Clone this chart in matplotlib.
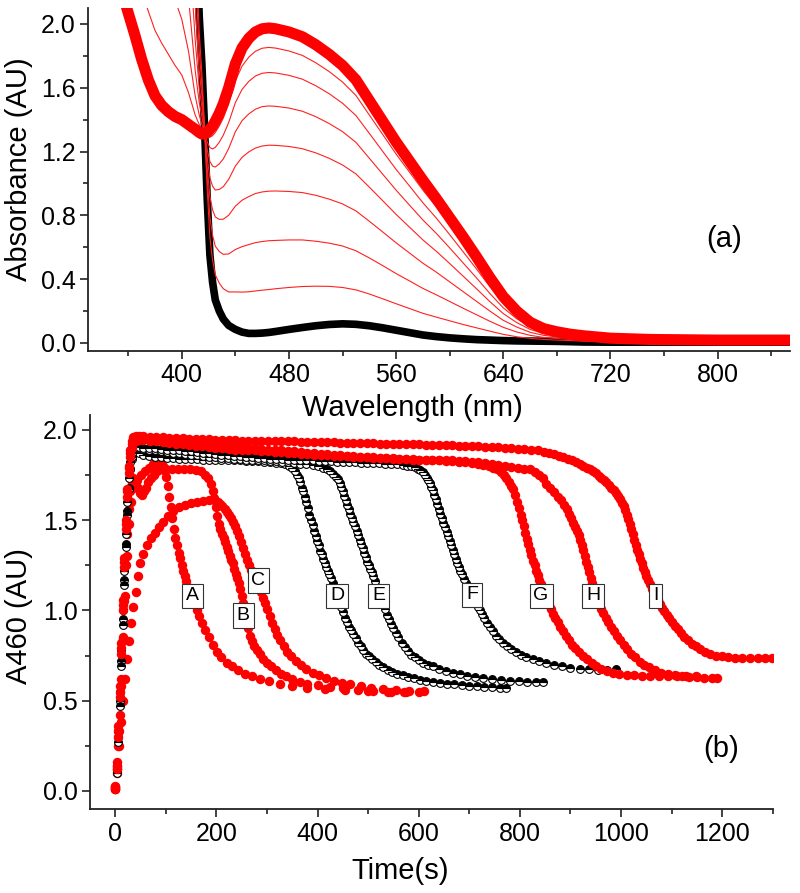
import matplotlib
matplotlib.use('Agg')
import matplotlib.pyplot as plt
from matplotlib.ticker import MultipleLocator, FormatStrFormatter

plt.rcParams['font.family'] = ['Liberation Sans', 'DejaVu Sans']

# ---------------- panel (a): spectra ----------------
wl = [330, 345, 360, 365, 370, 375, 380, 385, 390, 395, 400, 405, 410, 413, 415, 417, 419, 421, 423, 425,
      428, 431, 435, 440, 445, 450, 455, 460, 465, 470, 480, 490, 500, 510, 520, 530, 540, 550, 560, 570,
      580, 590, 600, 610, 620, 630, 640, 650, 660, 670, 680, 690, 700, 720, 750, 800, 854]

spec_start = [9.0, 9.0, 9.0, 8.8, 8.5, 8.3, 8.0, 7.6, 7.0, 6.4, 5.7, 4.5, 2.8, 2.05, 1.75, 1.35, 0.9, 0.55, 0.38, 0.27,
              0.2, 0.15, 0.11, 0.085, 0.068, 0.06, 0.06, 0.062, 0.066, 0.072, 0.085, 0.097, 0.108, 0.116, 0.12, 0.117, 0.108, 0.095, 0.08, 0.065,
              0.05, 0.04, 0.032, 0.026, 0.021, 0.018, 0.015, 0.013, 0.012, 0.011, 0.01, 0.008, 0.006, 0.005, 0.005, 0.005, 0.005]

spec_end = [2.9, 2.5, 2.07, 1.93, 1.78, 1.65, 1.55, 1.49, 1.45, 1.42, 1.40, 1.37, 1.34, 1.32, 1.31, 1.31, 1.32, 1.34, 1.36, 1.39,
            1.44, 1.50, 1.60, 1.75, 1.85, 1.91, 1.95, 1.97, 1.975, 1.97, 1.95, 1.92, 1.87, 1.81, 1.74, 1.65, 1.52, 1.39, 1.26, 1.14,
            1.02, 0.905, 0.785, 0.665, 0.54, 0.41, 0.29, 0.20, 0.13, 0.09, 0.07, 0.055, 0.045, 0.03, 0.022, 0.018, 0.018]

spec_1 = [3.29, 2.92, 2.51, 2.37, 2.21, 2.08, 1.96, 1.88, 1.81, 1.74, 1.68, 1.57, 1.43, 1.37, 1.34, 1.31, 1.29, 1.29, 1.30, 1.32,
          1.36, 1.41, 1.50, 1.643, 1.736, 1.792, 1.829, 1.848, 1.853, 1.849, 1.831, 1.803, 1.757, 1.702, 1.636, 1.552, 1.429, 1.307, 1.184, 1.071,
          0.958, 0.854, 0.742, 0.624, 0.507, 0.385, 0.273, 0.188, 0.122, 0.085, 0.066, 0.052, 0.043, 0.028, 0.021, 0.017, 0.017]
spec_2 = [3.79, 3.45, 3.08, 2.93, 2.76, 2.62, 2.50, 2.38, 2.26, 2.15, 2.03, 1.83, 1.55, 1.43, 1.37, 1.32, 1.26, 1.225, 1.217, 1.226,
          1.259, 1.303, 1.382, 1.507, 1.590, 1.640, 1.674, 1.691, 1.696, 1.693, 1.678, 1.654, 1.613, 1.563, 1.503, 1.426, 1.314, 1.201, 1.088, 0.984,
          0.879, 0.783, 0.679, 0.572, 0.464, 0.352, 0.249, 0.173, 0.113, 0.078, 0.061, 0.048, 0.039, 0.026, 0.020, 0.016, 0.016]
spec_3 = [4.46, 4.16, 3.84, 3.69, 3.5, 3.35, 3.21, 3.05, 2.87, 2.69, 2.50, 2.17, 1.71, 1.51, 1.42, 1.32, 1.212, 1.138, 1.109, 1.103,
          1.123, 1.154, 1.219, 1.324, 1.394, 1.436, 1.466, 1.482, 1.486, 1.484, 1.473, 1.453, 1.419, 1.376, 1.325, 1.258, 1.158, 1.058, 0.958, 0.864,
          0.771, 0.687, 0.596, 0.502, 0.408, 0.310, 0.220, 0.152, 0.100, 0.070, 0.055, 0.043, 0.035, 0.024, 0.018, 0.015, 0.015]
spec_4 = [5.25, 5.0, 4.74, 4.57, 4.37, 4.21, 4.04, 3.84, 3.59, 3.34, 3.06, 2.58, 1.90, 1.60, 1.48, 1.325, 1.158, 1.036, 0.983, 0.959,
          0.963, 0.980, 1.026, 1.109, 1.164, 1.198, 1.222, 1.235, 1.240, 1.239, 1.232, 1.218, 1.192, 1.158, 1.116, 1.060, 0.977, 0.892, 0.806, 0.726,
          0.646, 0.575, 0.498, 0.419, 0.340, 0.259, 0.184, 0.128, 0.085, 0.060, 0.047, 0.037, 0.030, 0.020, 0.015, 0.013, 0.013]
spec_5 = [6.17, 5.98, 5.78, 5.61, 5.38, 5.21, 5.01, 4.76, 4.42, 4.09, 3.70, 3.05, 2.12, 1.71, 1.55, 1.33, 1.095, 0.917, 0.835, 0.790,
          0.775, 0.776, 0.801, 0.858, 0.895, 0.918, 0.937, 0.947, 0.952, 0.953, 0.950, 0.943, 0.926, 0.902, 0.872, 0.828, 0.763, 0.696, 0.628, 0.564,
          0.500, 0.444, 0.383, 0.322, 0.261, 0.200, 0.142, 0.100, 0.067, 0.048, 0.038, 0.030, 0.024, 0.017, 0.013, 0.011, 0.011]
spec_6 = [7.16, 7.04, 6.91, 6.73, 6.48, 6.3, 6.06, 5.76, 5.33, 4.9, 4.41, 3.56, 2.36, 1.83, 1.62, 1.34, 1.026, 0.788, 0.675, 0.607,
          0.573, 0.556, 0.558, 0.586, 0.604, 0.617, 0.629, 0.636, 0.641, 0.643, 0.646, 0.646, 0.638, 0.626, 0.608, 0.578, 0.533, 0.485, 0.435, 0.389,
          0.342, 0.302, 0.260, 0.218, 0.177, 0.136, 0.098, 0.069, 0.048, 0.035, 0.028, 0.022, 0.018, 0.013, 0.010, 0.009, 0.009]
spec_7 = [8.14, 8.08, 8.02, 7.83, 7.55, 7.36, 7.09, 6.74, 6.22, 5.7, 5.09, 4.06, 2.59, 1.95, 1.69, 1.344, 0.959, 0.661, 0.518, 0.428,
          0.375, 0.340, 0.320, 0.320, 0.319, 0.321, 0.326, 0.331, 0.335, 0.340, 0.348, 0.354, 0.356, 0.355, 0.348, 0.333, 0.307, 0.277, 0.246, 0.216,
          0.186, 0.162, 0.139, 0.116, 0.095, 0.074, 0.054, 0.039, 0.029, 0.022, 0.018, 0.015, 0.011, 0.009, 0.007, 0.007, 0.007]
spec_mid = [spec_1, spec_2, spec_3, spec_4, spec_5, spec_6, spec_7]

# ---------------- panel (b): kinetics at 460 nm ----------------
t_A = [0, 4, 8, 12, 16, 20, 24, 28, 32, 36, 42, 50, 58, 66, 74, 82, 88, 94, 98, 101,
       104, 107, 110, 113, 116, 119, 122, 125, 128, 131, 134, 137, 140, 144, 148, 152, 156, 161, 166, 172,
       178, 185, 193, 201, 210, 220, 231, 243, 256, 270, 286, 304, 325, 350, 380, 415, 455, 500, 545, 575]
y_A = [0.02, 0.14, 0.33, 0.58, 0.84, 1.08, 1.30, 1.48, 1.60, 1.68, 1.72, 1.75, 1.77, 1.79, 1.81, 1.82, 1.82, 1.80, 1.77, 1.74,
       1.69, 1.63, 1.57, 1.51, 1.45, 1.40, 1.36, 1.32, 1.29, 1.25, 1.22, 1.19, 1.16, 1.13, 1.10, 1.07, 1.04, 1.00, 0.97, 0.93,
       0.89, 0.85, 0.81, 0.77, 0.74, 0.71, 0.69, 0.67, 0.65, 0.635, 0.62, 0.61, 0.595, 0.58, 0.57, 0.565, 0.56, 0.555, 0.55, 0.55]

t_B = [0, 3, 6, 9, 12, 15, 18, 21, 24, 27, 30, 33, 36, 40, 44, 48, 52, 56, 60, 65,
       70, 76, 82, 90, 100, 112, 124, 136, 148, 160, 170, 178, 184, 189, 193, 196, 199, 202, 205, 208,
       211, 214, 217, 220, 223, 226, 229, 232, 235, 238, 241, 244, 247, 250, 253, 256, 259, 262, 266, 270,
       275, 280, 286, 293, 300, 308, 317, 327, 338, 350, 365, 380, 400, 425, 450, 480, 510, 540, 570, 600]
y_B = [0.01, 0.10, 0.25, 0.42, 0.62, 0.85, 1.05, 1.25, 1.42, 1.56, 1.66, 1.71, 1.73, 1.71, 1.68, 1.65, 1.64, 1.66, 1.68, 1.71,
       1.73, 1.75, 1.77, 1.78, 1.78, 1.78, 1.785, 1.78, 1.78, 1.775, 1.77, 1.75, 1.73, 1.70, 1.66, 1.62, 1.57, 1.52, 1.48, 1.45,
       1.42, 1.40, 1.38, 1.35, 1.33, 1.30, 1.28, 1.26, 1.23, 1.20, 1.18, 1.15, 1.12, 1.08, 1.04, 0.99, 0.94, 0.90, 0.86, 0.83,
       0.80, 0.78, 0.76, 0.73, 0.71, 0.69, 0.67, 0.65, 0.635, 0.62, 0.605, 0.595, 0.585, 0.575, 0.57, 0.56, 0.555, 0.55, 0.55, 0.55]

t_C = [0, 4, 8, 12, 16, 20, 24, 28, 32, 36, 40, 45, 49, 55, 62, 70, 78, 86, 95, 105,
       115, 126, 138, 150, 162, 174, 186, 196, 204, 208, 212, 216, 220, 224, 228, 232, 236, 240, 244, 248,
       252, 256, 260, 264, 268, 272, 276, 280, 284, 288, 292, 296, 300, 305, 310, 315, 320, 326, 333, 340,
       348, 357, 367, 378, 390, 403, 417, 432, 448, 465, 485, 505, 530, 555, 580, 610]
y_C = [0.01, 0.12, 0.25, 0.38, 0.50, 0.62, 0.73, 0.83, 0.93, 1.02, 1.10, 1.19, 1.26, 1.31, 1.36, 1.40, 1.43, 1.46, 1.49, 1.52,
       1.55, 1.57, 1.585, 1.595, 1.60, 1.605, 1.61, 1.61, 1.60, 1.59, 1.575, 1.56, 1.545, 1.53, 1.51, 1.49, 1.465, 1.44, 1.41, 1.38,
       1.345, 1.31, 1.28, 1.25, 1.225, 1.20, 1.175, 1.15, 1.125, 1.10, 1.07, 1.04, 1.01, 0.97, 0.93, 0.895, 0.865, 0.835, 0.80, 0.77,
       0.745, 0.72, 0.695, 0.675, 0.655, 0.64, 0.625, 0.61, 0.60, 0.59, 0.58, 0.57, 0.565, 0.56, 0.555, 0.555]

t_D = [0, 3, 6, 9, 12, 15, 18, 21, 24, 27, 30, 33, 36, 40, 46, 55, 66, 78, 90, 102,
       114, 126, 138, 150, 162, 174, 186, 198, 210, 222, 234, 246, 258, 270, 282, 294, 306, 318, 328, 336,
       344, 350, 355, 359, 363, 366, 369, 372, 375, 378, 381, 384, 387, 390, 393, 396, 399, 402, 405, 408,
       411, 414, 417, 420, 423, 426, 430, 434, 438, 442, 446, 450, 454, 458, 462, 466, 470, 475, 480, 485,
       490, 496, 502, 508, 515, 522, 530, 539, 548, 558, 568, 579, 590, 602, 615, 628, 642, 656, 670, 685,
       700, 715, 730, 745, 760, 772]
y_D = [0.02, 0.12, 0.30, 0.50, 0.72, 0.95, 1.17, 1.37, 1.55, 1.68, 1.78, 1.84, 1.87, 1.88, 1.87, 1.86, 1.855, 1.85, 1.85, 1.845,
       1.845, 1.84, 1.84, 1.84, 1.84, 1.835, 1.835, 1.835, 1.83, 1.83, 1.83, 1.83, 1.825, 1.825, 1.825, 1.82, 1.82, 1.815, 1.815, 1.81,
       1.80, 1.79, 1.77, 1.75, 1.73, 1.71, 1.68, 1.66, 1.63, 1.60, 1.565, 1.53, 1.50, 1.47, 1.44, 1.41, 1.385, 1.36, 1.33, 1.31,
       1.285, 1.26, 1.24, 1.22, 1.20, 1.18, 1.15, 1.12, 1.09, 1.05, 1.02, 0.99, 0.96, 0.935, 0.91, 0.89, 0.87, 0.845, 0.82, 0.80,
       0.78, 0.76, 0.745, 0.73, 0.715, 0.70, 0.685, 0.67, 0.66, 0.65, 0.64, 0.63, 0.625, 0.615, 0.61, 0.605, 0.60, 0.595, 0.59, 0.585,
       0.58, 0.58, 0.575, 0.575, 0.57, 0.57]

t_E = [0, 3, 6, 9, 12, 15, 18, 21, 24, 27, 30, 33, 36, 40, 46, 55, 66, 78, 90, 102,
       114, 126, 138, 150, 162, 174, 186, 198, 210, 222, 234, 246, 258, 270, 282, 294, 306, 318, 330, 342,
       354, 366, 378, 390, 400, 410, 418, 425, 431, 436, 440, 444, 447, 450, 453, 456, 459, 462, 465, 468,
       471, 474, 477, 480, 483, 486, 489, 492, 495, 498, 501, 504, 507, 510, 514, 518, 522, 526, 530, 534,
       538, 542, 546, 550, 555, 560, 566, 572, 578, 585, 592, 600, 609, 618, 628, 640, 653, 667, 681, 696,
       712, 728, 745, 762, 780, 798, 815, 832, 845]
y_E = [0.01, 0.10, 0.27, 0.47, 0.69, 0.92, 1.14, 1.35, 1.53, 1.67, 1.78, 1.85, 1.89, 1.90, 1.90, 1.895, 1.89, 1.885, 1.88, 1.875,
       1.87, 1.87, 1.865, 1.86, 1.86, 1.855, 1.85, 1.85, 1.845, 1.845, 1.84, 1.84, 1.835, 1.835, 1.83, 1.83, 1.825, 1.825, 1.82, 1.82,
       1.815, 1.81, 1.81, 1.805, 1.80, 1.79, 1.78, 1.77, 1.755, 1.74, 1.725, 1.705, 1.685, 1.66, 1.635, 1.61, 1.585, 1.56, 1.535, 1.51,
       1.49, 1.465, 1.44, 1.415, 1.39, 1.37, 1.345, 1.32, 1.295, 1.27, 1.25, 1.23, 1.21, 1.19, 1.16, 1.13, 1.10, 1.065, 1.035, 1.005,
       0.975, 0.95, 0.925, 0.90, 0.875, 0.85, 0.82, 0.795, 0.775, 0.755, 0.74, 0.725, 0.71, 0.70, 0.69, 0.675, 0.665, 0.655, 0.645, 0.635,
       0.63, 0.625, 0.62, 0.615, 0.61, 0.61, 0.605, 0.605, 0.605]

t_F = [0, 3, 6, 9, 12, 15, 18, 21, 24, 27, 30, 33, 36, 40, 46, 55, 66, 78, 90, 102,
       114, 126, 138, 150, 162, 174, 186, 198, 210, 222, 234, 246, 258, 270, 282, 294, 306, 318, 330, 342,
       354, 366, 378, 390, 402, 414, 426, 438, 450, 462, 474, 486, 498, 510, 522, 534, 546, 558, 568, 577,
       585, 592, 598, 603, 608, 612, 616, 619, 622, 625, 628, 631, 634, 637, 640, 643, 646, 649, 652, 655,
       658, 661, 664, 667, 670, 673, 676, 679, 682, 685, 689, 693, 697, 701, 705, 709, 713, 717, 721, 725,
       730, 735, 740, 746, 752, 759, 766, 774, 783, 792, 802, 813, 825, 838, 852, 867, 883, 900, 918, 936,
       954, 972, 990]
y_F = [0.02, 0.14, 0.33, 0.55, 0.78, 1.0, 1.22, 1.42, 1.6, 1.73, 1.82, 1.87, 1.90, 1.905, 1.905, 1.90, 1.90, 1.90, 1.895, 1.89,
       1.89, 1.885, 1.88, 1.88, 1.875, 1.87, 1.87, 1.865, 1.86, 1.86, 1.855, 1.855, 1.85, 1.85, 1.845, 1.845, 1.84, 1.84, 1.84, 1.835,
       1.835, 1.83, 1.83, 1.83, 1.825, 1.825, 1.825, 1.82, 1.82, 1.82, 1.82, 1.815, 1.815, 1.815, 1.815, 1.81, 1.81, 1.81, 1.805, 1.80,
       1.80, 1.795, 1.785, 1.775, 1.765, 1.75, 1.735, 1.72, 1.705, 1.685, 1.665, 1.64, 1.615, 1.59, 1.56, 1.535, 1.51, 1.485, 1.46, 1.435,
       1.41, 1.385, 1.36, 1.335, 1.31, 1.285, 1.26, 1.24, 1.22, 1.20, 1.175, 1.15, 1.125, 1.10, 1.08, 1.06, 1.04, 1.02, 1.00, 0.98,
       0.955, 0.93, 0.91, 0.885, 0.86, 0.84, 0.82, 0.80, 0.785, 0.77, 0.755, 0.74, 0.73, 0.72, 0.71, 0.70, 0.69, 0.683, 0.677, 0.673,
       0.672, 0.672, 0.673]

t_G = [0, 3, 6, 9, 12, 15, 18, 21, 24, 27, 30, 33, 36, 40, 46, 55, 68, 81, 94, 107,
       120, 133, 146, 159, 172, 185, 198, 211, 224, 237, 250, 263, 276, 289, 302, 315, 328, 341, 354, 367,
       380, 393, 406, 419, 432, 445, 458, 471, 484, 497, 510, 523, 536, 549, 562, 575, 588, 601, 614, 627,
       640, 653, 666, 679, 692, 705, 717, 728, 738, 747, 755, 762, 768, 773, 778, 782, 786, 790, 794, 798,
       802, 805, 808, 811, 814, 817, 820, 823, 826, 829, 832, 835, 838, 841, 844, 847, 850, 854, 858, 862,
       866, 870, 875, 880, 885, 891, 897, 903, 910, 917, 925, 933, 942, 951, 961, 972, 984, 997, 1011, 1026,
       1042, 1058, 1075, 1092, 1110, 1128, 1148]
y_G = [0.01, 0.12, 0.30, 0.52, 0.76, 1.0, 1.24, 1.45, 1.63, 1.76, 1.85, 1.90, 1.93, 1.94, 1.945, 1.945, 1.94, 1.935, 1.93, 1.925,
       1.92, 1.92, 1.915, 1.91, 1.91, 1.905, 1.90, 1.90, 1.895, 1.89, 1.89, 1.885, 1.885, 1.88, 1.88, 1.875, 1.875, 1.87, 1.87, 1.865,
       1.865, 1.86, 1.86, 1.86, 1.855, 1.855, 1.855, 1.85, 1.85, 1.85, 1.845, 1.845, 1.845, 1.84, 1.84, 1.84, 1.835, 1.835, 1.83, 1.83,
       1.83, 1.825, 1.825, 1.82, 1.82, 1.815, 1.81, 1.805, 1.80, 1.79, 1.78, 1.765, 1.75, 1.73, 1.71, 1.69, 1.67, 1.64, 1.60, 1.565,
       1.53, 1.50, 1.465, 1.43, 1.395, 1.365, 1.335, 1.305, 1.275, 1.25, 1.22, 1.195, 1.17, 1.145, 1.125, 1.10, 1.08, 1.055, 1.03, 1.005,
       0.98, 0.96, 0.935, 0.91, 0.885, 0.86, 0.835, 0.81, 0.79, 0.77, 0.75, 0.73, 0.71, 0.69, 0.677, 0.665, 0.655, 0.648, 0.644, 0.64,
       0.638, 0.636, 0.635, 0.635, 0.635, 0.635, 0.635]

t_H = [0, 3, 6, 9, 12, 15, 18, 21, 24, 27, 30, 33, 36, 40, 46, 55, 68, 81, 94, 107,
       120, 133, 146, 159, 172, 185, 198, 211, 224, 237, 250, 263, 276, 289, 302, 315, 328, 341, 354, 367,
       380, 393, 406, 419, 432, 445, 458, 471, 484, 497, 510, 523, 536, 549, 562, 575, 588, 601, 614, 627,
       640, 653, 666, 679, 692, 705, 718, 731, 744, 757, 770, 783, 796, 808, 820, 830, 838, 845, 852, 860,
       868, 876, 882, 888, 893, 898, 902, 906, 910, 913, 916, 919, 922, 925, 928, 931, 934, 937, 940, 943,
       946, 949, 952, 956, 960, 965, 970, 975, 980, 986, 992, 998, 1005, 1012, 1020, 1028, 1037, 1046, 1056, 1067,
       1079, 1092, 1106, 1120, 1135, 1150, 1165, 1180, 1190]
y_H = [0.03, 0.16, 0.36, 0.58, 0.82, 1.06, 1.29, 1.50, 1.67, 1.79, 1.87, 1.92, 1.94, 1.95, 1.955, 1.955, 1.95, 1.95, 1.945, 1.94,
       1.94, 1.935, 1.93, 1.93, 1.925, 1.92, 1.92, 1.915, 1.91, 1.91, 1.905, 1.90, 1.90, 1.895, 1.89, 1.89, 1.885, 1.88, 1.88, 1.875,
       1.87, 1.87, 1.865, 1.865, 1.86, 1.86, 1.855, 1.855, 1.85, 1.85, 1.85, 1.845, 1.845, 1.845, 1.84, 1.84, 1.84, 1.835, 1.835, 1.835,
       1.83, 1.83, 1.83, 1.825, 1.825, 1.82, 1.82, 1.815, 1.81, 1.805, 1.80, 1.795, 1.79, 1.785, 1.78, 1.765, 1.75, 1.73, 1.70, 1.68,
       1.655, 1.63, 1.61, 1.585, 1.56, 1.535, 1.51, 1.485, 1.46, 1.44, 1.415, 1.39, 1.36, 1.335, 1.30, 1.27, 1.24, 1.21, 1.18, 1.15,
       1.12, 1.09, 1.065, 1.035, 1.01, 0.985, 0.96, 0.935, 0.91, 0.885, 0.86, 0.835, 0.81, 0.785, 0.76, 0.74, 0.715, 0.70, 0.685, 0.67,
       0.655, 0.645, 0.64, 0.635, 0.63, 0.63, 0.625, 0.625, 0.625]

t_I = [0, 3, 6, 9, 12, 15, 18, 21, 24, 27, 30, 33, 36, 40, 46, 55, 68, 81, 94, 107,
       120, 133, 146, 159, 172, 185, 198, 211, 224, 237, 250, 263, 276, 289, 302, 315, 328, 341, 354, 367,
       380, 393, 406, 419, 432, 445, 458, 471, 484, 497, 510, 523, 536, 549, 562, 575, 588, 601, 614, 627,
       640, 653, 666, 679, 692, 705, 718, 731, 744, 757, 770, 783, 796, 809, 822, 835, 847, 858, 868, 877,
       886, 895, 903, 911, 918, 925, 932, 938, 944, 950, 956, 961, 966, 971, 976, 981, 986, 990, 994, 998,
       1002, 1005, 1008, 1011, 1014, 1017, 1020, 1023, 1026, 1029, 1032, 1035, 1038, 1041, 1044, 1047, 1050, 1053, 1057, 1061,
       1065, 1069, 1073, 1077, 1081, 1085, 1090, 1095, 1100, 1106, 1112, 1118, 1125, 1132, 1140, 1148, 1157, 1166, 1176, 1187,
       1199, 1212, 1226, 1240, 1255, 1270, 1285, 1298]
y_I = [0.02, 0.14, 0.33, 0.55, 0.79, 1.03, 1.27, 1.48, 1.66, 1.80, 1.89, 1.94, 1.96, 1.965, 1.965, 1.965, 1.96, 1.96, 1.96, 1.955,
       1.955, 1.955, 1.95, 1.95, 1.95, 1.95, 1.945, 1.945, 1.945, 1.945, 1.94, 1.94, 1.94, 1.94, 1.935, 1.935, 1.935, 1.935, 1.935, 1.93,
       1.93, 1.93, 1.93, 1.93, 1.93, 1.925, 1.925, 1.925, 1.925, 1.925, 1.925, 1.92, 1.92, 1.92, 1.92, 1.92, 1.92, 1.92, 1.915, 1.915,
       1.915, 1.915, 1.915, 1.91, 1.91, 1.91, 1.91, 1.905, 1.905, 1.905, 1.90, 1.90, 1.895, 1.895, 1.89, 1.885, 1.875, 1.87, 1.865, 1.855,
       1.85, 1.84, 1.83, 1.82, 1.81, 1.80, 1.79, 1.78, 1.77, 1.76, 1.745, 1.735, 1.72, 1.71, 1.695, 1.68, 1.665, 1.65, 1.635, 1.615,
       1.595, 1.575, 1.555, 1.53, 1.505, 1.48, 1.45, 1.42, 1.39, 1.36, 1.335, 1.31, 1.285, 1.26, 1.235, 1.21, 1.19, 1.17, 1.145, 1.12,
       1.095, 1.075, 1.055, 1.035, 1.015, 0.995, 0.975, 0.955, 0.935, 0.915, 0.895, 0.875, 0.855, 0.835, 0.815, 0.80, 0.785, 0.77, 0.76, 0.75,
       0.745, 0.74, 0.738, 0.736, 0.735, 0.735, 0.735, 0.735]

traces = [(t_A, y_A, 'red'), (t_B, y_B, 'red'), (t_C, y_C, 'red'),
          (t_D, y_D, 'black'), (t_E, y_E, 'black'), (t_F, y_F, 'black'),
          (t_G, y_G, 'red'), (t_H, y_H, 'red'), (t_I, y_I, 'red')]

label_names = ['A', 'B', 'C', 'D', 'E', 'F', 'G', 'H', 'I']
label_t = [153, 253, 283, 439, 521, 705, 842, 945, 1069]
label_a = [1.08, 0.97, 1.165, 1.08, 1.08, 1.085, 1.08, 1.08, 1.08]

# ---------------- figure ----------------
fig = plt.figure(figsize=(8, 8.93), dpi=100)
ax2 = fig.add_axes([0.1125, 0.094, 0.8534, 0.441])
ax1 = fig.add_axes([0.11, 0.607, 0.8775, 0.384])
ax2.patch.set_visible(False)
ax1.patch.set_visible(False)

ax1.plot(wl, spec_start, color='black', lw=5.5, solid_joinstyle='round', zorder=2)
for s in spec_mid:
    ax1.plot(wl, s, color='#ff2020', lw=0.8, zorder=3)
ax1.plot(wl, spec_end, color='#ff0000', lw=8, solid_joinstyle='round', zorder=4)

ax1.set_xlim(330, 854)
ax1.set_ylim(-0.05, 2.1)
ax1.xaxis.set_major_locator(MultipleLocator(80))
ax1.xaxis.set_minor_locator(MultipleLocator(40))
ax1.yaxis.set_major_locator(MultipleLocator(0.4))
ax1.yaxis.set_minor_locator(MultipleLocator(0.2))
ax1.yaxis.set_major_formatter(FormatStrFormatter('%.1f'))
ax1.set_xlabel('Wavelength (nm)', fontsize=21)
ax1.set_ylabel('Absorbance (AU)', fontsize=21)
ax1.xaxis.set_label_coords(0.462, -0.125)
ax1.yaxis.set_label_coords(-0.078, 0.53)
ax1.text(805, 0.65, '(a)', fontsize=21, ha='center', va='center')

for tt, yy, col in traces:
    if col == 'red':
        ax2.plot(tt, yy, 'o', ls='none', ms=6.8, color='#ff0000', mew=0)
    else:
        ax2.plot(tt, yy, 'o', ls='none', ms=5.6, fillstyle='top', markerfacecolor='black',
                 markerfacecoloralt='white', markeredgecolor='black', mew=0.8)

for name, tx, ay in zip(label_names, label_t, label_a):
    ax2.text(tx, ay, name, fontsize=14, ha='center', va='center', zorder=10,
             bbox=dict(boxstyle='square,pad=0.2', fc='white', ec='#333333', lw=0.8))

ax2.set_xlim(-50, 1300)
ax2.set_ylim(-0.1, 2.08)
ax2.xaxis.set_major_locator(MultipleLocator(200))
ax2.xaxis.set_minor_locator(MultipleLocator(100))
ax2.yaxis.set_major_locator(MultipleLocator(0.5))
ax2.yaxis.set_minor_locator(MultipleLocator(0.25))
ax2.yaxis.set_major_formatter(FormatStrFormatter('%.1f'))
ax2.set_xlabel('Time(s)', fontsize=21)
ax2.set_ylabel('A460 (AU)', fontsize=21)
ax2.xaxis.set_label_coords(0.454, -0.122)
ax2.yaxis.set_label_coords(-0.083, 0.49)
ax2.text(1197, 0.23, '(b)', fontsize=21, ha='center', va='center')

for ax in (ax1, ax2):
    for side in ('top', 'right'):
        ax.spines[side].set_visible(False)
    for side in ('left', 'bottom'):
        ax.spines[side].set_linewidth(1.3)
        ax.spines[side].set_color('#222222')
    ax.tick_params(which='both', direction='out', top=False, right=False, width=1.2, colors='#222222')
    ax.tick_params(which='major', length=6, labelsize=18, pad=3, labelcolor='black')
    ax.tick_params(which='minor', length=3.5)

fig.savefig('out.png', dpi=100)
